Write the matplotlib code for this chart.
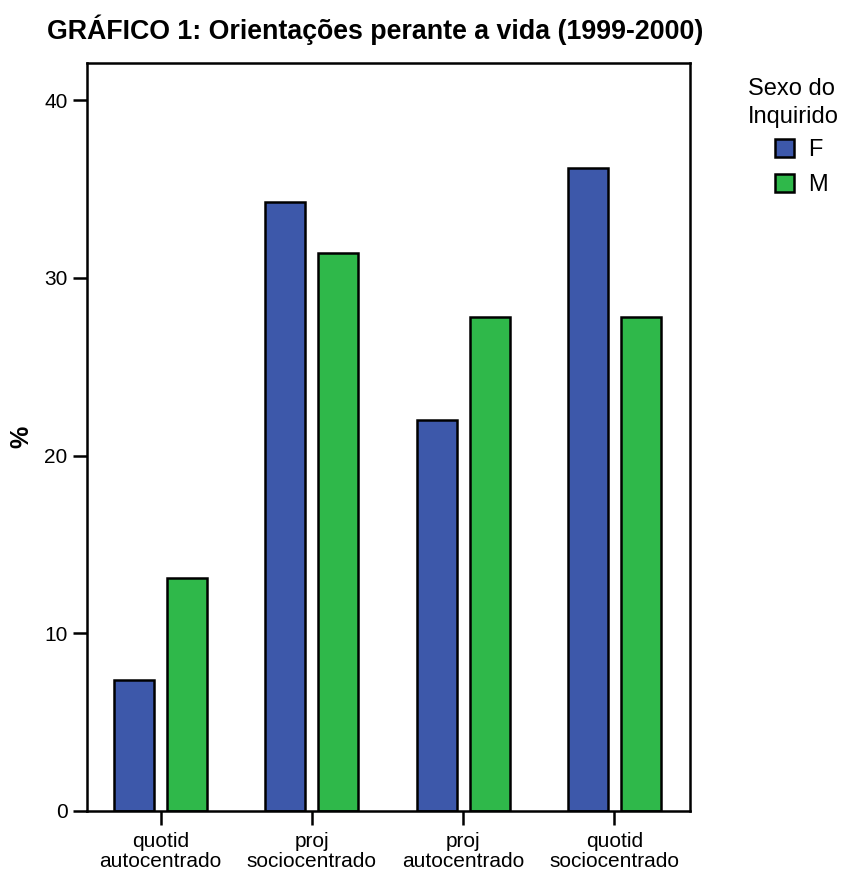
# grafico1.py
# Orientacoes perante a vida (1999-2000), % por sexo do inquirido

import numpy as np
import matplotlib.pyplot as plt
from matplotlib.patches import Patch

plt.rcParams['font.family'] = ['Liberation Sans', 'DejaVu Sans']

# Data
categories = ['quotid\nautocentrado', 'proj\nsociocentrado',
              'proj\nautocentrado', 'quotid\nsociocentrado']
pct_f = [7.4, 34.3, 22.0, 36.2]
pct_m = [13.1, 31.4, 27.8, 27.8]
y_ticks = [0, 10, 20, 30, 40]

col_f = '#3d58aa'
col_m = '#2fb84a'

def main():
    fig = plt.figure(figsize=(8.45, 8.69), dpi=100)
    ax = fig.add_axes([87 / 845, 58 / 869, 603 / 845, 748 / 869])

    x = np.arange(len(categories))
    w = 0.264
    off = 0.175
    ax.bar(x - off, pct_f, width=w, color=col_f, edgecolor='black', linewidth=1.8)
    ax.bar(x + off, pct_m, width=w, color=col_m, edgecolor='black', linewidth=1.8)

    ax.set_xlim(-0.486, 3.5)
    ax.set_ylim(0, 42.1)
    ax.set_xticks(x)
    ax.set_xticklabels(categories, fontsize=15, linespacing=1.05)
    ax.set_yticks(y_ticks)
    ax.tick_params(axis='y', labelsize=15, length=10, width=1.8, pad=4)
    ax.tick_params(axis='x', length=10, width=1.8, pad=5)
    for s in ax.spines.values():
        s.set_linewidth(1.8)

    ax.set_ylabel('%', fontsize=18, fontweight='bold', labelpad=8)

    fig.text(47 / 845, 1 - 30 / 869, 'GRÁFICO 1: Orientações perante a vida (1999-2000)',
             fontsize=19.3, fontweight='bold', va='center', ha='left')

    # legend
    fig.text(748 / 845, 1 - 103 / 869, 'Sexo do\nInquirido', fontsize=17,
             va='center', ha='left', linespacing=1.3)
    handles = [Patch(facecolor=col_f, edgecolor='black', linewidth=1.8, label='F'),
               Patch(facecolor=col_m, edgecolor='black', linewidth=1.8, label='M')]
    fig.legend(handles=handles, loc='upper left', bbox_to_anchor=(775 / 845, 1 - 139 / 869),
               frameon=False, fontsize=17, handlelength=0.8, handleheight=0.8,
               handletextpad=0.6, labelspacing=0.55, borderaxespad=0, borderpad=0)

    fig.savefig('out.png', dpi=100)

if __name__ == "__main__":
    main()
